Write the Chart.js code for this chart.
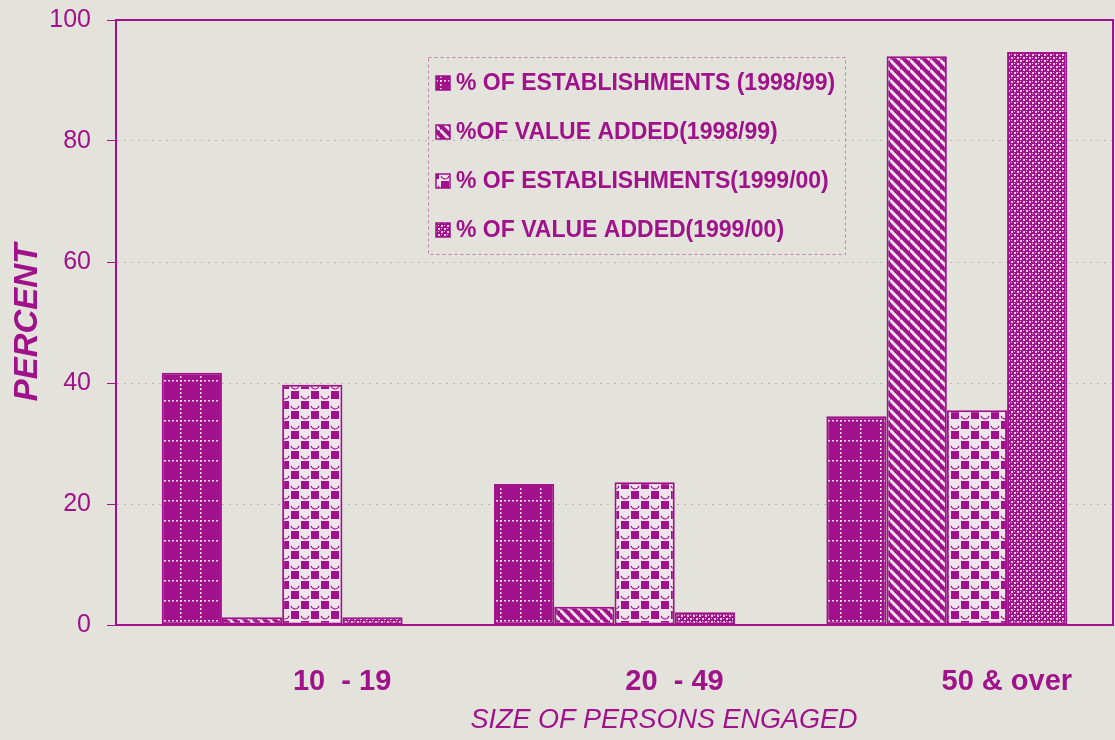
<!DOCTYPE html>
<html>
<head>
<meta charset="utf-8">
<script src="https://cdn.jsdelivr.net/npm/chart.js@4.4.0/dist/chart.umd.min.js"></script>
<style>
  body { margin: 0; background: #e3e2db; }
  #wrap { width: 1115px; height: 740px; }
</style>
</head>
<body>
<div id="wrap"><canvas id="sizeChart"></canvas></div>
<script>
// data
var categories = ['10  - 19', '20  - 49', '50 & over'];
var seriesLabels = [
  '% OF ESTABLISHMENTS (1998/99)',
  '%OF VALUE ADDED(1998/99)',
  '% OF ESTABLISHMENTS(1999/00)',
  '% OF VALUE ADDED(1999/00)'
];
var estab9899 = [41.7, 23.3, 34.5];
var value9899 = [1.3, 3.0, 94.0];
var estab9900 = [39.7, 23.6, 35.5];
var value9900 = [1.3, 2.1, 94.7];
var yTitle = 'PERCENT';
var xTitle = 'SIZE OF PERSONS ENGAGED';

var MAGENTA = '#a0118b';
var PALE = '#efe4ec';
var BG = '#e3e2db';
var FONT = '"Liberation Sans", Arial, sans-serif';

var ctx = document.getElementById('sizeChart').getContext('2d');

function makeTile(size, draw) {
  var c = document.createElement('canvas');
  c.width = size;
  c.height = size;
  draw(c.getContext('2d'), size);
  return ctx.createPattern(c, 'repeat');
}

// solid with dotted white grid
var gridPattern = makeTile(20, function (g, s) {
  g.fillStyle = MAGENTA;
  g.fillRect(0, 0, s, s);
  g.fillStyle = PALE;
  for (var i = 0; i < s; i += 4) {
    g.fillRect(i, 0, 2, 1.5);
    g.fillRect(0, i, 1.5, 2);
  }
});

// diagonal stripes
var stripePattern = makeTile(10, function (g, s) {
  g.fillStyle = MAGENTA;
  g.fillRect(0, 0, s, s);
  g.strokeStyle = PALE;
  g.lineWidth = 3;
  [-s, 0, s].forEach(function (k) {
    g.beginPath();
    g.moveTo(0, k);
    g.lineTo(s, s + k);
    g.stroke();
  });
});

// squares and circles
var dotPattern = makeTile(20, function (g, s) {
  g.fillStyle = PALE;
  g.fillRect(0, 0, s, s);
  g.fillStyle = MAGENTA;
  g.fillRect(1, 1, 8, 8);
  g.fillRect(11, 11, 8, 8);
  g.strokeStyle = MAGENTA;
  g.lineWidth = 1.2;
  g.beginPath();
  g.arc(15, 5, 4, 0.2, Math.PI - 0.2);
  g.stroke();
  g.beginPath();
  g.arc(5, 15, 4, 0.2, Math.PI - 0.2);
  g.stroke();
});

// fine crosshatch
var hatchPattern = makeTile(6, function (g, s) {
  g.fillStyle = MAGENTA;
  g.fillRect(0, 0, s, s);
  g.fillStyle = '#e6c8df';
  g.fillRect(0, 0, 2, 2);
  g.fillRect(3, 3, 2, 2);
  g.fillRect(3, 0, 1, 1);
  g.fillRect(0, 3, 1, 1);
});

var fills = [gridPattern, stripePattern, dotPattern, hatchPattern];
var seriesValues = [estab9899, value9899, estab9900, value9900];

var paper = {
  id: 'paper',
  beforeDraw: function (chart) {
    var c = chart.ctx;
    c.save();
    c.fillStyle = BG;
    c.fillRect(0, 0, chart.width, chart.height);
    c.restore();
  },
  afterDraw: function (chart) {
    var c = chart.ctx;
    var a = chart.chartArea;
    c.save();
    // frame
    c.strokeStyle = MAGENTA;
    c.lineWidth = 2;
    c.strokeRect(a.left, a.top, a.right - a.left, a.bottom - a.top);

    // legend box
    c.setLineDash([3, 3]);
    c.lineWidth = 1;
    c.strokeStyle = 'rgba(170, 60, 150, 0.6)';
    c.strokeRect(428.5, 57.5, 417, 197);
    c.setLineDash([]);
    c.font = 'bold 23px ' + FONT;
    c.textBaseline = 'middle';
    chart.data.datasets.forEach(function (ds, i) {
      var y = 83 + i * 49;
      c.fillStyle = ds.backgroundColor;
      c.fillRect(436, y - 7, 14, 14);
      c.strokeStyle = MAGENTA;
      c.lineWidth = 1.5;
      c.strokeRect(436, y - 7, 14, 14);
      c.fillStyle = MAGENTA;
      c.fillText(ds.label, 456, y + 1);
    });

    // x axis title, sits right of centre in the original
    c.font = 'italic 27px ' + FONT;
    c.textAlign = 'center';
    c.fillText(xTitle, 664, 720);
    c.restore();
  }
};

new Chart(ctx, {
  type: 'bar',
  plugins: [paper],
  data: {
    labels: categories,
    datasets: seriesValues.map(function (vals, i) {
      return {
        label: seriesLabels[i],
        data: vals,
        backgroundColor: fills[i],
        borderColor: MAGENTA,
        borderWidth: 2,
        borderSkipped: false
      };
    })
  },
  options: {
    responsive: true,
    maintainAspectRatio: false,
    animation: false,
    layout: { padding: { top: 20, right: 2, left: 0, bottom: 0 } },
    plugins: {
      legend: { display: false },
      tooltip: { enabled: false }
    },
    datasets: {
      bar: { categoryPercentage: 0.725, barPercentage: 1.0 }
    },
    scales: {
      x: {
        afterFit: function (scale) {
          scale.height = 115;
          scale.paddingLeft = 0;
          scale.paddingRight = 0;
        },
        grid: { display: false, drawTicks: false },
        border: { display: true, color: MAGENTA, width: 2 },
        ticks: {
          color: MAGENTA,
          font: { family: FONT, size: 29, weight: 'bold' },
          padding: 40,
          labelOffset: 60
        },
        title: { display: false }
      },
      y: {
        min: 0,
        max: 100,
        afterFit: function (scale) {
          scale.width = 116;
          scale.paddingTop = 0;
          scale.paddingBottom = 0;
        },
        ticks: {
          stepSize: 20,
          color: MAGENTA,
          font: { family: FONT, size: 25 },
          padding: 16
        },
        grid: {
          color: function (c) {
            return (c.tick && (c.tick.value === 0 || c.tick.value === 100)) ? 'rgba(0,0,0,0)' : 'rgba(140, 130, 140, 0.45)';
          },
          lineWidth: 1,
          tickLength: 9,
          tickColor: MAGENTA
        },
        border: { display: true, color: MAGENTA, width: 2, dash: [2, 5] },
        title: {
          display: true,
          text: yTitle,
          color: MAGENTA,
          font: { family: FONT, size: 33, weight: 'bold', style: 'italic' },
          padding: { top: 8, bottom: 0 }
        }
      }
    }
  }
});
</script>
</body>
</html>
